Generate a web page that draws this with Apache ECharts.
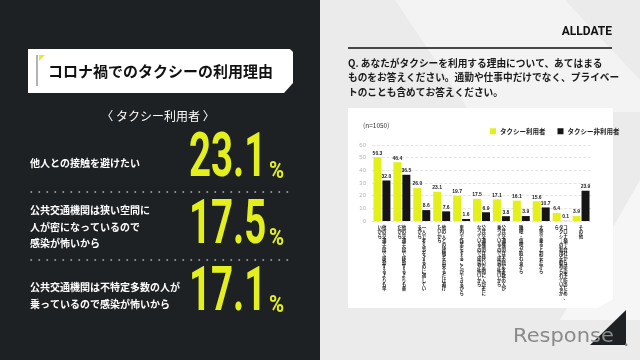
<!DOCTYPE html>
<html><head><meta charset="utf-8">
<script src="https://cdn.jsdelivr.net/npm/echarts@6/dist/echarts.min.js"></script>
<style>html,body{margin:0;padding:0;background:#ebebeb}#c{width:640px;height:360px}</style>
</head><body><div id="c"></div>
<script>
// ---- data ----
const categories = [
  "他の交通手段で移動するよりも早\nいから",
  "他の交通手段で移動するよりも楽\nだから",
  "一人で考え事をするのに適してい\nるから",
  "他の人との接触を出来るだけ避け\nたいから",
  "車内で作業をすることができるから",
  "公共交通機関は狭い空間に人が密に\nなっているので感染が怖いから",
  "公共交通機関は不特定多数の人が\n乗っているので感染が怖いから",
  "睡眠・仮眠が取れるから",
  "大勢で乗ると割安だから",
  "コロナ禍で会社から感染予防のため、\nタクシーの利用を勧められているか\nら",
  "その他"
];
const usersValues = [50.3, 46.4, 26.0, 23.1, 19.7, 17.5, 17.1, 16.1, 15.6, 6.4, 3.9];
const nonUsersValues = [32.0, 36.5, 8.6, 7.6, 1.6, 6.9, 3.8, 3.9, 10.7, 0.1, 23.9];
const seriesNames = ["タクシー利用者", "タクシー非利用者"];
const yTicks = {min: 0, max: 60, interval: 10};
const topReasons = ["他人との接触を避けたい", "公共交通機関は狭い空間に\n人が密になっているので\n感染が怖いから", "公共交通機関は不特定多数の人が\n乗っているので感染が怖いから"];
const topValues = ["23.1", "17.5", "17.1"];
const titleText = "コロナ禍でのタクシーの利用理由";
const subTitle = "〈 タクシー利用者 〉";
const questionText = "Q. あなたがタクシーを利用する理由について、あてはまる\nものをお答えください。通勤や仕事中だけでなく、プライベー\nトのことも含めてお答えください。";
const sampleText = "(n=1050)";
const brandText = "ALLDATE";

// ---- helpers ----
function vert(s){
  const cols = s.split('\n').map(c => Array.from(c.replace(/ー/g,'｜')));
  const n = Math.max(...cols.map(c => c.length));
  const lines = [];
  for (let i = 0; i < n; i++) {
    lines.push(cols.slice().reverse().map(c => c[i] || '　').join(''));
  }
  return lines.join('\n');
}
const JP = '"Noto Sans CJK JP", "Noto Sans", sans-serif';
const YEL = '#e3f01c';
const DARK = '#1e2124';

const graphics = [
  // backgrounds
  {type:'rect', z:-100, shape:{x:0,y:0,width:640,height:360}, style:{fill:'#ebebeb'}},
  {type:'polygon', z:-99, shape:{points:[[395,0],[565,0],[640,80],[640,112],[470,112]]}, style:{fill:'#f3f3f3'}},
  {type:'polygon', z:-99, shape:{points:[[640,180],[640,320],[560,320]]}, style:{fill:'#f6f6f6'}},
  {type:'rect', z:-98, shape:{x:0,y:0,width:320,height:360}, style:{fill:DARK}},
  // chart white box
  {type:'polygon', z:-90, shape:{points:[[348,108],[613,108],[613,299],[598,308],[348,308]]}, style:{fill:'#ffffff'}},
  // title box
  {type:'polygon', z:5, shape:{points:[[28,49],[290,49],[293,52],[293,83],[284,93],[28,93]]}, style:{fill:'#ffffff'}},
  {type:'line', z:6, shape:{x1:37,y1:55,x2:37,y2:86}, style:{stroke:'#9a9a9a', lineWidth:1.5}},
  {type:'polygon', z:6, shape:{points:[[39,55],[45,55],[39,61]]}, style:{fill:YEL}},
  {type:'text', z:6, x:48, y:71, style:{text:titleText, font:'bold 15px '+JP, fill:'#111', verticalAlign:'middle'}},
  {type:'text', z:6, x:158, y:116, style:{text:subTitle, font:'12px '+JP, fill:'#ffffff', align:'center', verticalAlign:'middle'}},
  // separators
  {type:'line', z:6, shape:{x1:31,y1:192,x2:292,y2:192}, style:{stroke:'#b8b8b8', lineWidth:1.5, lineDash:[0.5,7.5], lineCap:'round'}},
  {type:'line', z:6, shape:{x1:31,y1:260,x2:292,y2:260}, style:{stroke:'#b8b8b8', lineWidth:1.5, lineDash:[0.5,7.5], lineCap:'round'}},
  // right panel texts
  {type:'text', z:6, x:612, y:32, style:{text:brandText, font:'bold 12px Roboto', fill:'#111', align:'right', verticalAlign:'middle'}},
  {type:'line', z:6, shape:{x1:348,y1:48,x2:612,y2:48}, style:{stroke:'#111', lineWidth:1.5}},
  {type:'text', z:6, x:348, y:63 - 7.3, style:{text:questionText, font:'bold 9.7px '+JP, fill:'#1a1a1a', verticalAlign:'top', lineHeight:14.6}},
  {type:'text', z:6, x:363, y:126, style:{text:sampleText, font:'6.5px '+JP, fill:'#333', verticalAlign:'middle'}},
  // logo
  {type:'polygon', z:6, shape:{points:[[626,310],[626,345],[590,345]]}, style:{fill:DARK}},
  {type:'text', z:7, x:513, y:337, scaleX:1.05, style:{text:'Response', font:'20px "DejaVu Sans"', fill:'#8a8a8a', verticalAlign:'middle'}},
  {type:'text', z:8, x:624, y:343, style:{text:'.', font:'bold 12px "DejaVu Sans"', fill:'#8a8a8a', verticalAlign:'middle'}}
];

const rowCenters = [160, 227, 294];
const textTops = [163, 210, 287];
const LH = 16.8;
topReasons.forEach((t, i) => {
  graphics.push({type:'text', z:6, x:30, y: textTops[i] - LH/2, style:{text:t, font:'bold 10px '+JP, fill:'#ffffff', verticalAlign:'top', lineHeight:LH}});
  graphics.push({type:'text', z:6, x:189, y: rowCenters[i], scaleX:0.62, style:{text:topValues[i], font:'bold 62px Roboto', fill:YEL, verticalAlign:'middle'}});
  graphics.push({type:'text', z:6, x:269, y: rowCenters[i]+12, scaleX:0.85, style:{text:'%', font:'bold 24px Roboto', fill:YEL, verticalAlign:'middle'}});
});

const chart = echarts.init(document.getElementById('c'), null, {renderer:'canvas'});
chart.setOption({
  animation:false,
  backgroundColor:'transparent',
  graphic: graphics,
  legend:{
    data: seriesNames, left:485, top:123, icon:'rect', itemWidth:6, itemHeight:6, itemGap:12,
    textStyle:{fontSize:6.5, fontWeight:'bold', color:'#222', fontFamily:JP, padding:[0,0,0,-1]}
  },
  grid:{left:372, right:49, top:145, bottom:139},
  xAxis:{
    type:'category', data:categories,
    axisLine:{show:false}, axisTick:{show:false},
    axisLabel:{interval:0, formatter:vert, fontSize:4.4, lineHeight:4.4, color:'#222', margin:4, fontFamily:JP, fontWeight:'bold', verticalAlign:'top'}
  },
  yAxis:{
    type:'value', min:yTicks.min, max:yTicks.max, interval:yTicks.interval,
    axisLine:{show:false}, axisTick:{show:false},
    axisLabel:{fontSize:6, color:'#b5b5b5', margin:6},
    splitLine:{lineStyle:{type:'dashed', color:'#dedede', width:0.8}}
  },
  series:[
    {name:seriesNames[0], type:'bar', data:usersValues, barWidth:8, barGap:'12%', itemStyle:{color:YEL},
     label:{show:true, position:'top', distance:1.5, fontSize:5, fontWeight:'bold', color:'#222', formatter:p=>p.value.toFixed(1)}},
    {name:seriesNames[1], type:'bar', data:nonUsersValues, barWidth:8, itemStyle:{color:'#151515'},
     label:{show:true, position:'top', distance:1.5, fontSize:5, fontWeight:'bold', color:'#222', formatter:p=>p.value.toFixed(1)}}
  ]
});
</script></body></html>
